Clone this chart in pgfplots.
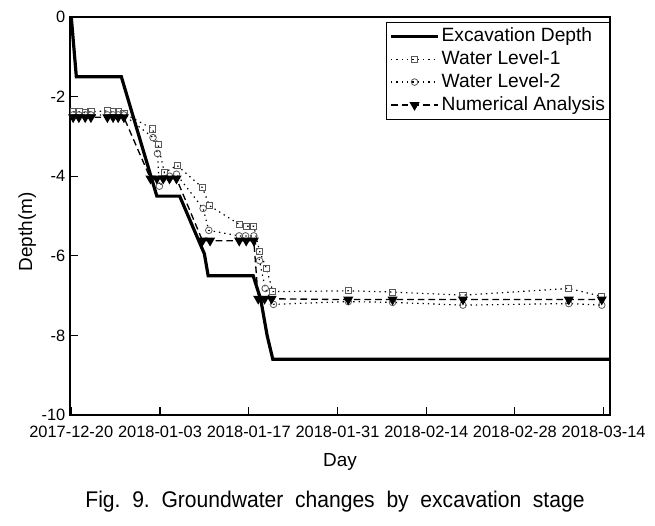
\documentclass[border=0pt]{standalone}
\usepackage{pgfplots}
\pgfplotsset{compat=1.18}
\usepackage{fontspec}
\setmainfont{Liberation Sans}
\usepackage{graphicx}
\begin{document}
\begin{tikzpicture}
\begin{axis}[
  name=ax, scale only axis, width=405pt, height=298.5pt,
  xmin=-0.2, xmax=85, ymin=-10, ymax=0, clip=false,
  axis line style={line width=1.2pt},
  xtick pos=bottom, ytick pos=left, tick align=inside,
  major tick length=6pt, tick style={line width=0.8pt, black},
  xtick={0,14,28,42,56,70,84},
  xticklabels={2017-12-20,2018-01-03,2018-01-17,2018-01-31,2018-02-14,2018-02-28,2018-03-14},
  ytick={-10,-8,-6,-4,-2,0},
  yticklabels={-10,-8,-6,-4,-2,0},
  ticklabel style={font=\fontsize{12.3}{14}\selectfont},
  xticklabel style={yshift=-5pt},
  xlabel={Day}, ylabel={Depth(m)},
  every axis x label/.style={at={(axis description cs:0.5,-0.117)}, anchor=center, font=\fontsize{14.2}{17}\selectfont},
  every axis y label/.style={at={(axis description cs:-0.079,0.46)}, anchor=center, rotate=90, font=\fontsize{14.2}{17}\selectfont},
  legend style={at={(1,1)}, anchor=north east, yshift=-3.5pt, draw=black, line width=0.6pt,
    font=\fontsize{14.4}{17}\selectfont, inner sep=2pt, row sep=0pt,
    nodes={inner sep=1.5pt, text height=11pt, text depth=3.2pt}},
  legend cell align=left,
  legend image code/.code={\draw[mark repeat=2,mark phase=2] plot coordinates {(0cm,0cm) (0.62cm,0cm) (1.24cm,0cm)};},
]
\addplot[black, line width=2.4pt] coordinates {
(0,0) (0.8,-1.5) (7.9,-1.5) (13.5,-4.5) (17.1,-4.5) (21.0,-5.95) (21.6,-6.5) (28.7,-6.5) (29.9,-7.1) (30.9,-8.0) (31.8,-8.6) (85,-8.6)};
\addlegendentry{Excavation Depth}
\addplot[black, line width=0.9pt, dash pattern=on 1pt off 3pt, mark=square, mark size=2.3pt,
  mark options={solid, draw=black!65, line width=0.6pt, fill=white}] coordinates {
(0.3,-2.38) (1.2,-2.38) (2.2,-2.4) (3.1,-2.38) (5.7,-2.36) (6.6,-2.38) (7.4,-2.38) (8.3,-2.42)
(12.8,-2.81) (13.7,-3.21) (14.7,-3.91) (16.7,-3.73) (20.7,-4.29) (21.8,-4.74)
(26.5,-5.21) (27.6,-5.26) (28.8,-5.26) (29.7,-5.88) (30.8,-6.32) (31.8,-6.9)
(43.7,-6.88) (50.7,-6.91) (61.8,-6.99) (78.5,-6.82) (83.7,-7.02)};
\addlegendentry{Water Level-1}
\addplot[black, line width=0.9pt, dash pattern=on 1pt off 3pt, mark=o, mark size=2.5pt,
  mark options={solid, draw=black!65, line width=0.6pt, fill=white}] coordinates {
(0.3,-2.46) (1.2,-2.46) (2.2,-2.46) (3.1,-2.46) (5.7,-2.46) (6.6,-2.46) (7.4,-2.46) (8.3,-2.46)
(12.9,-3.03) (13.6,-3.43) (13.9,-4.25) (15.5,-4.0) (16.6,-3.95)
(20.8,-4.81) (21.7,-5.36) (26.5,-5.5) (27.5,-5.5) (28.8,-5.5) (29.7,-6.12) (30.6,-6.82) (31.9,-7.22)
(43.7,-7.15) (50.7,-7.17) (61.8,-7.24) (78.5,-7.2) (83.7,-7.24)};
\addlegendentry{Water Level-2}
\addplot[black, line width=1pt, dash pattern=on 5pt off 3pt, mark=triangle*, mark size=3.4pt,
  mark options={solid, rotate=180, fill=black}] coordinates {
(0.3,-2.52) (1.2,-2.52) (2.2,-2.52) (3.1,-2.52) (5.7,-2.52) (6.6,-2.52) (7.4,-2.52) (8.3,-2.52)
(12.5,-4.06) (13.5,-4.06) (14.5,-4.06) (15.5,-4.06) (16.6,-4.06)
(20.7,-5.62) (21.9,-5.62) (26.5,-5.62) (27.6,-5.62) (28.8,-5.62)
(29.5,-7.08) (30.5,-7.08) (31.6,-7.08)
(43.7,-7.1) (50.7,-7.1) (61.8,-7.1) (78.5,-7.1) (83.7,-7.1)};
\addlegendentry{Numerical Analysis}
\end{axis}
\node[anchor=base, font=\fontsize{17}{20}\selectfont] at ([xshift=-3.75pt, yshift=-69.5pt]ax.south)
  {\scalebox{0.93}[1]{Fig.\ \ 9.\ \ Groundwater\ \ changes\ \ by\ \ excavation\ \ stage}};
\pgfresetboundingbox
\path ([xshift=-52.5pt,yshift=12.75pt]ax.north west) rectangle ([xshift=33.75pt,yshift=-83.25pt]ax.south east);
\end{tikzpicture}
\end{document}
